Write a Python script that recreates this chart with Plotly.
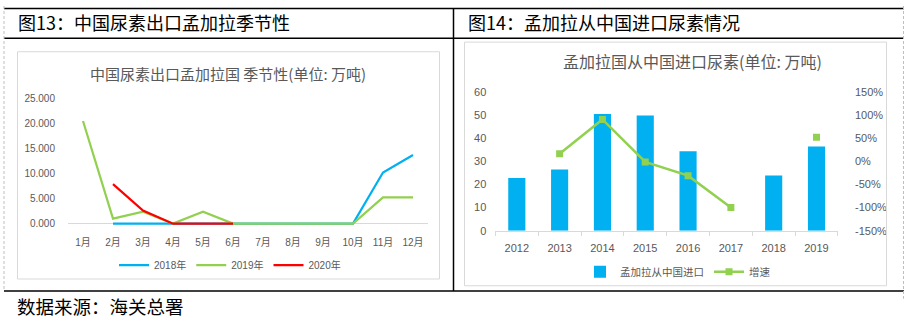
import plotly.graph_objects as go

W, H = 908, 324
CJK = "Noto Sans CJK SC"
LAT = "Liberation Sans, Arial, Noto Sans CJK SC"
GRAY_TXT = "#595959"
AXIS_GRAY = "#D9D9D9"

# ---- 图13 data: monthly urea exports to Bangladesh (万吨) ----
months = ["1月", "2月", "3月", "4月", "5月", "6月", "7月", "8月", "9月", "10月", "11月", "12月"]
exp_2018 = [None, 0, 0, 0, 0, 0, 0, 0, 0, 0, 10.2, 13.7]
exp_2019 = [20.5, 1.0, 2.4, 0, 2.4, 0, 0, 0, 0, 0, 5.25, 5.25]
exp_2020 = [None, 7.9, 2.6, 0, 0, 0, None, None, None, None, None, None]
season_names = ["2018年", "2019年", "2020年"]
season_colors = ["#00B0F0", "#92D050", "#FF0000"]
season_ticks = [0, 5, 10, 15, 20, 25]

# ---- 图14 data: Bangladesh urea imports from China ----
years = ["2012", "2013", "2014", "2015", "2016", "2017", "2018", "2019"]
imports = [22.75, 26.5, 50.5, 49.8, 34.4, 0, 23.9, 36.4]
growth = [None, 0.165, 0.906, -0.014, -0.31, -1.0, None, 0.523]
growth_ticks = [-1.5, -1.0, -0.5, 0, 0.5, 1.0, 1.5]
growth_ticktext = ["-150%", "-100%", "-50%", "0%", "50%", "100%", "150%"]


def px_x(p):
    return p / W


def px_y(p):
    return 1 - p / H


fig = go.Figure()

# left chart lines
for name, vals, col in zip(season_names, [exp_2018, exp_2019, exp_2020], season_colors):
    fig.add_trace(go.Scatter(
        x=months, y=vals, name=name, mode="lines",
        line=dict(color=col, width=2.2), connectgaps=False,
        xaxis="x", yaxis="y", legend="legend",
    ))

# right chart bars + growth line
fig.add_trace(go.Bar(
    x=years, y=imports, name="孟加拉从中国进口", marker=dict(color="#00B0F0", line=dict(width=0)),
    width=0.4, xaxis="x2", yaxis="y2", legend="legend2",
))
fig.add_trace(go.Scatter(
    x=years, y=growth, name="增速", mode="lines+markers",
    line=dict(color="#92D050", width=2.5),
    marker=dict(symbol="square", size=7, color="#92D050"),
    connectgaps=False, xaxis="x2", yaxis="y3", legend="legend2",
))

# left plot: 25 at 96px, 0 at 226px
scale = (226 - 96) / 25.0
left_bottom = 226 + 0.6 * scale

shapes = []
# frame lines of the two-panel table
blk = dict(color="black", width=1.5)
shapes += [
    dict(type="line", xref="paper", yref="paper", x0=px_x(4), x1=px_x(904), y0=px_y(2.5), y1=px_y(2.5), line=blk),
    dict(type="line", xref="paper", yref="paper", x0=px_x(4), x1=px_x(904), y0=px_y(33.5), y1=px_y(33.5), line=blk),
    dict(type="line", xref="paper", yref="paper", x0=px_x(4), x1=px_x(904), y0=px_y(296), y1=px_y(296), line=blk),
    dict(type="line", xref="paper", yref="paper", x0=px_x(453.5), x1=px_x(453.5), y0=px_y(2.5), y1=px_y(296), line=blk),
    dict(type="line", xref="paper", yref="paper", x0=px_x(4), x1=px_x(4), y0=px_y(0), y1=px_y(296),
         line=dict(color="#BFBFBF", width=1, dash="3px,2px")),
    dict(type="line", xref="paper", yref="paper", x0=px_x(903.5), x1=px_x(903.5), y0=px_y(0), y1=px_y(304),
         line=dict(color="#BFBFBF", width=1, dash="3px,2px")),
]
# inner chart boxes
box = dict(color=AXIS_GRAY, width=1)
shapes += [
    dict(type="rect", xref="paper", yref="paper", x0=px_x(17.5), x1=px_x(439.5), y0=px_y(47.5), y1=px_y(283.5), line=box),
    dict(type="rect", xref="paper", yref="paper", x0=px_x(464.5), x1=px_x(886.5), y0=px_y(37.5), y1=px_y(290.5), line=box),
]

annotations = [
    dict(text="图13：中国尿素出口孟加拉季节性", x=px_x(16), y=px_y(17), xref="paper", yref="paper",
         xanchor="left", yanchor="middle", showarrow=False, font=dict(family=CJK, size=18, color="black")),
    dict(text="图14：孟加拉从中国进口尿素情况", x=px_x(466), y=px_y(17), xref="paper", yref="paper",
         xanchor="left", yanchor="middle", showarrow=False, font=dict(family=CJK, size=18, color="black")),
    dict(text="数据来源：海关总署", x=px_x(15), y=px_y(312), xref="paper", yref="paper",
         xanchor="left", yanchor="middle", showarrow=False, font=dict(family=CJK, size=18.5, color="black")),
    dict(text="中国尿素出口孟加拉国 季节性(单位: 万吨)", x=px_x(228), y=px_y(70), xref="paper", yref="paper",
         xanchor="center", yanchor="middle", showarrow=False, font=dict(family=CJK, size=15, color=GRAY_TXT)),
    dict(text="孟加拉国从中国进口尿素(单位: 万吨)", x=px_x(692), y=px_y(57), xref="paper", yref="paper",
         xanchor="center", yanchor="middle", showarrow=False, font=dict(family=CJK, size=16, color=GRAY_TXT)),
]

tickfont_l = dict(family=LAT, size=10, color=GRAY_TXT)
tickfont_r = dict(family=LAT, size=11, color=GRAY_TXT)

fig.update_layout(
    width=W, height=H, margin=dict(l=0, r=0, t=0, b=0),
    paper_bgcolor="white", plot_bgcolor="rgba(0,0,0,0)",
    shapes=shapes, annotations=annotations, bargap=0.6,
    xaxis=dict(domain=[px_x(68), px_x(428)], anchor="y", type="category",
               range=[-0.5, len(months) - 0.5],
               showgrid=False, zeroline=False, showline=False, ticks="",
               tickfont=tickfont_l, ticklabelstandoff=8, fixedrange=True),
    yaxis=dict(domain=[px_y(left_bottom), px_y(96)], anchor="x", range=[-0.6, 25],
               tickvals=season_ticks, ticktext=[f"{v:.3f}" for v in season_ticks],
               showgrid=False, zeroline=True, zerolinecolor=AXIS_GRAY, zerolinewidth=1,
               showline=False, ticks="", tickfont=tickfont_l, ticklabelstandoff=12),
    xaxis2=dict(domain=[px_x(495.3), px_x(838)], anchor="y2", type="category",
                showgrid=False, zeroline=False, showline=True, linecolor=AXIS_GRAY, linewidth=1,
                ticks="outside", tickson="boundaries", ticklen=4, tickcolor=AXIS_GRAY,
                tickfont=tickfont_r, ticklabelstandoff=7),
    yaxis2=dict(domain=[px_y(233.3), px_y(89.3)], anchor="x2", range=[0, 60], dtick=10,
                showgrid=False, zeroline=False, showline=False, ticks="",
                tickfont=tickfont_r, ticklabelstandoff=8),
    yaxis3=dict(overlaying="y2", side="right", anchor="x2", range=[-1.5, 1.5],
                tickvals=growth_ticks, ticktext=growth_ticktext,
                showgrid=False, zeroline=False, showline=False, ticks="",
                tickfont=tickfont_r, ticklabelstandoff=16),
    legend=dict(orientation="h", x=px_x(230), y=px_y(269), xanchor="center", yanchor="middle",
                font=dict(family=LAT, size=10, color=GRAY_TXT), bgcolor="rgba(0,0,0,0)",
                itemwidth=30, tracegroupgap=0),
    legend2=dict(orientation="h", x=px_x(678), y=px_y(276), xanchor="center", yanchor="middle",
                 font=dict(family=CJK, size=10.5, color=GRAY_TXT), bgcolor="rgba(0,0,0,0)",
                 itemwidth=30, tracegroupgap=0),
)

fig.write_html("out.html")
